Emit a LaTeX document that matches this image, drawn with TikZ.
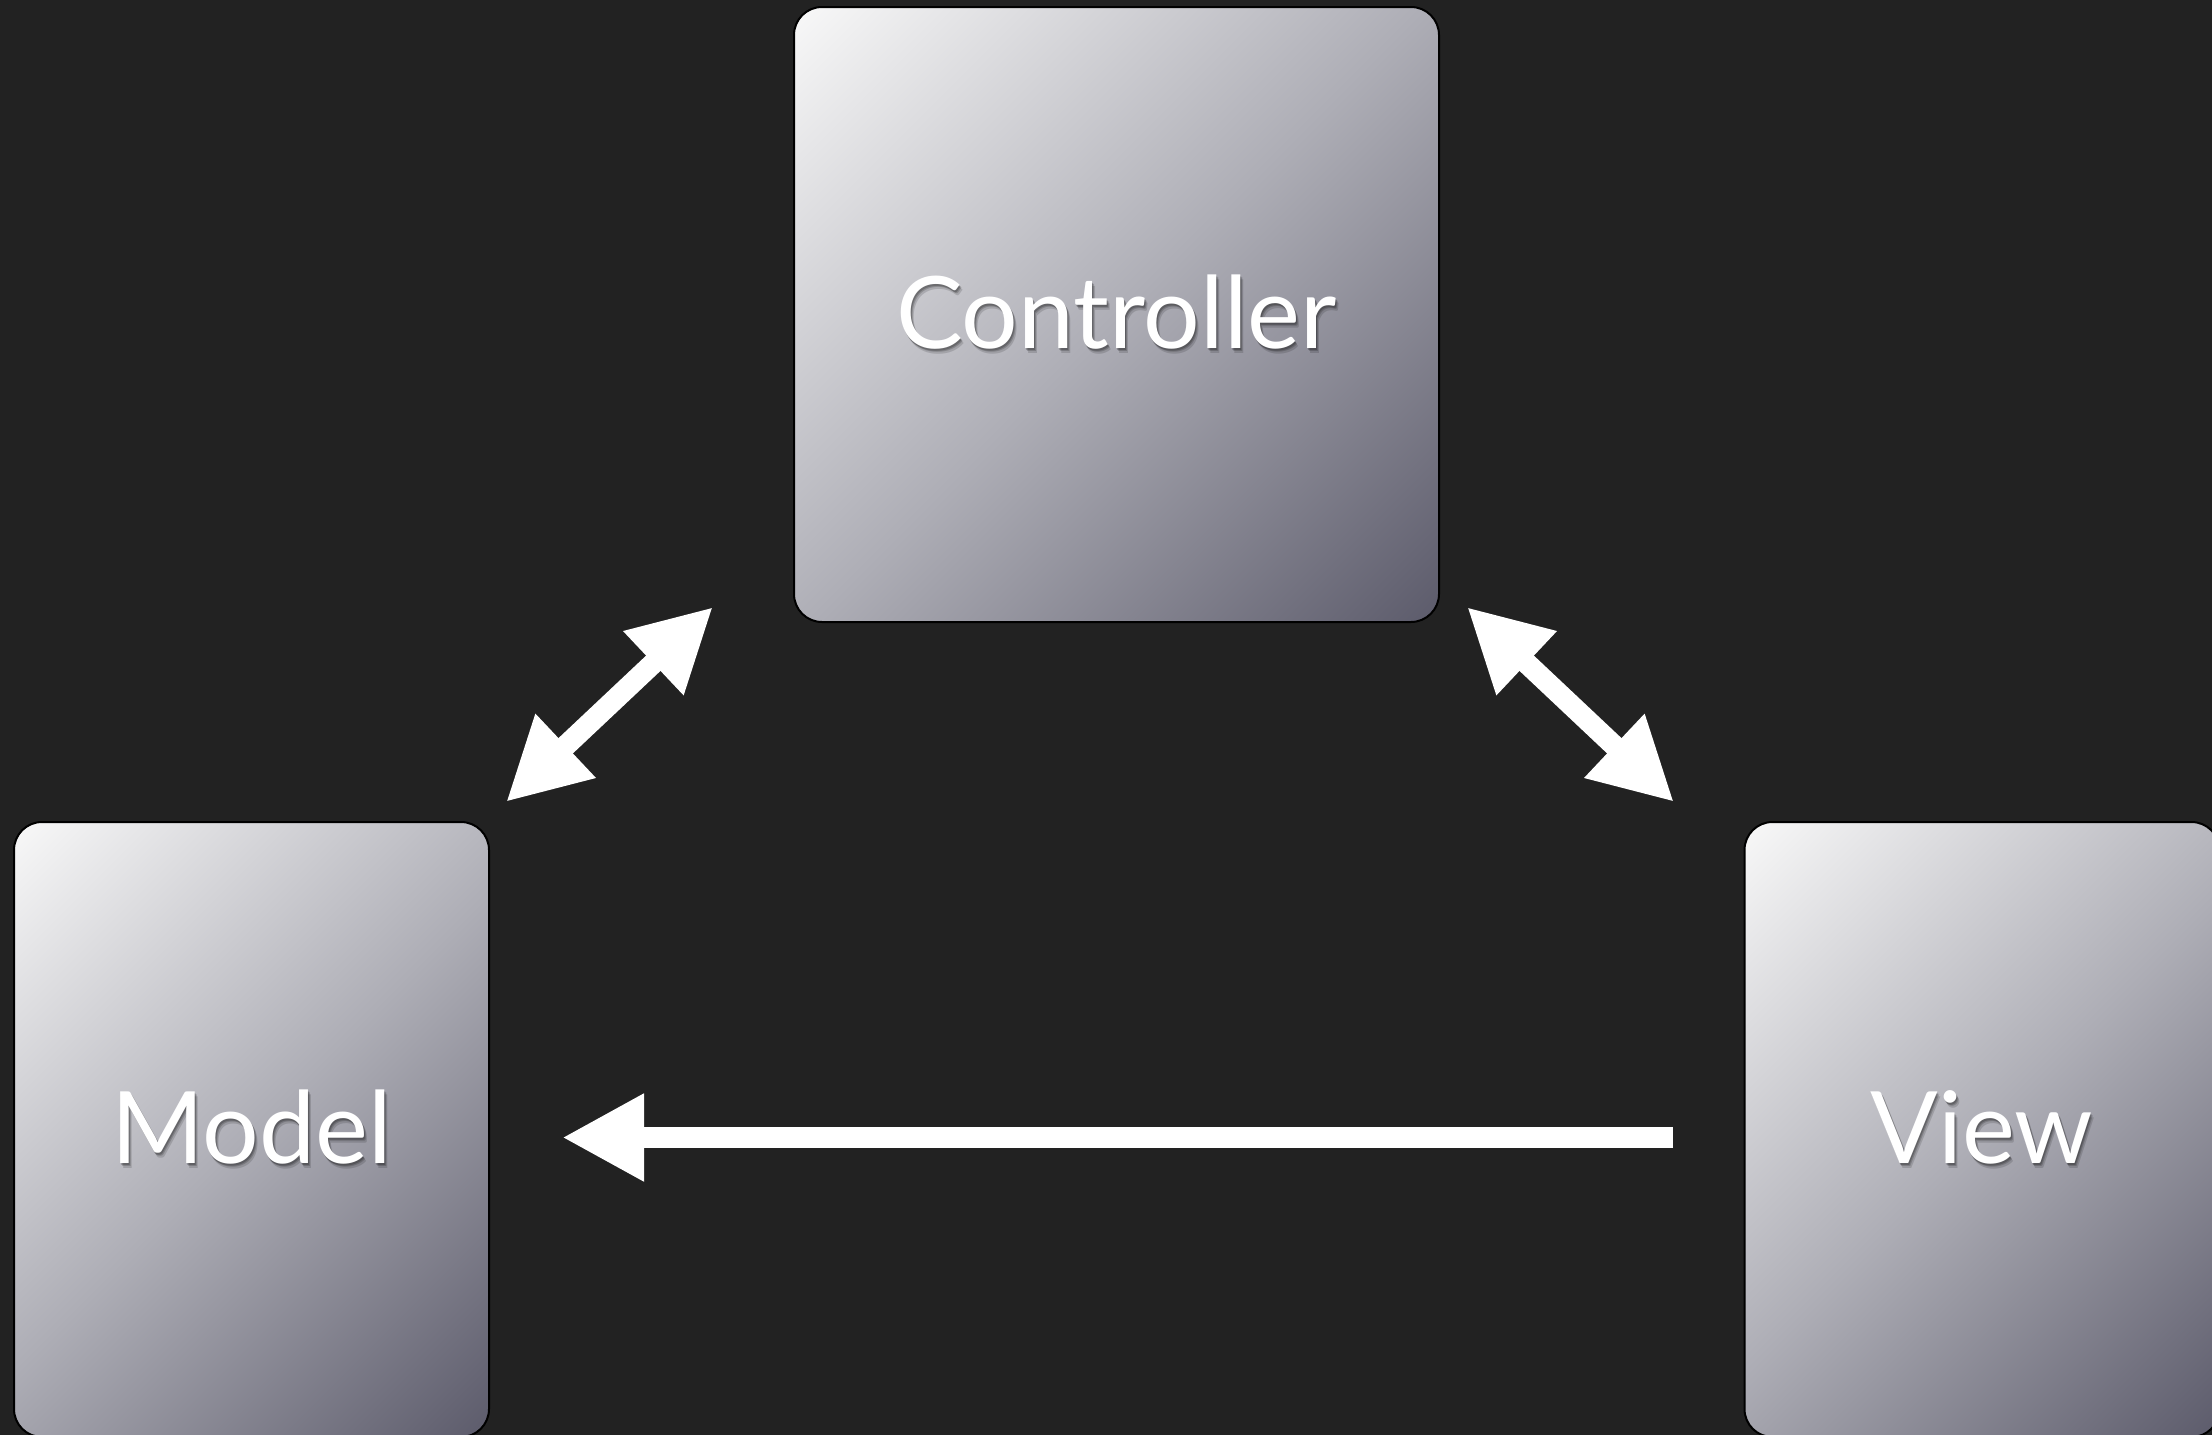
\documentclass[tikz,border=0pt]{standalone}
\usepackage{fontspec}
\setmainfont{Lato}
\usetikzlibrary{arrows.meta}

\definecolor{canvas}{HTML}{222222}
\definecolor{boxlight}{HTML}{F8F8F8}
\definecolor{boxmid}{HTML}{AEAEB6}
\definecolor{boxdark}{HTML}{5C5B6B}

% corner-to-corner fade; the ends sit where the box corners land
% once the shading is turned by 45 degrees
\pgfdeclareverticalshading{boxfade}{100bp}{%
  color(0bp)=(boxdark); color(14.6bp)=(boxdark);
  color(50bp)=(boxmid);
  color(85.4bp)=(boxlight); color(100bp)=(boxlight)}

% white label with a soft dark drop shadow underneath
\newcommand\shadedlabel[1]{%
  \rlap{\pgfsetfillopacity{0.14}\color{black}\hspace{3pt}\raisebox{-5pt}{#1}}%
  \rlap{\pgfsetfillopacity{0.18}\color{black}\hspace{2pt}\raisebox{-3.5pt}{#1}}%
  \rlap{\pgfsetfillopacity{0.22}\color{black}\hspace{1pt}\raisebox{-2pt}{#1}}%
  \pgfsetfillopacity{1}\color{white}#1}

\tikzset{
  mvcbox/.style={
    draw=black, line width=2pt, rounded corners=28pt,
    shading=boxfade, shading angle=45,
    text=white, font=\fontsize{100}{100}\selectfont,
    inner sep=0pt
  },
  flow/.style={
    draw=white, line width=21pt,
    -{Triangle[length=82pt,width=82pt]}
  },
  twoway/.style={
    draw=white, line width=21pt,
    {Triangle[length=82pt,width=82pt]}-{Triangle[length=82pt,width=82pt]}
  }
}

\begin{document}
\begin{tikzpicture}[x=1pt,y=-1pt]
  \useasboundingbox (0,0) rectangle (2212,1435);
  \fill[canvas] (0,0) rectangle (2212,1435);
  \clip (0,0) rectangle (2212,1435);

  % the three components
  \node[mvcbox, minimum width=645pt, minimum height=615pt]
    (controller) at (1116.5,314.5) {\shadedlabel{Controller}};
  \node[mvcbox, minimum width=475pt, minimum height=615pt]
    (model) at (251.5,1129.5) {\shadedlabel{Model}};
  \node[mvcbox, minimum width=475pt, minimum height=615pt]
    (view) at (1982,1129.5) {\shadedlabel{View}};

  % arrow end points in the gaps between the boxes
  \coordinate (mcLow)  at (506,802);
  \coordinate (mcHigh) at (713,607);
  \coordinate (cvHigh) at (1467,607);
  \coordinate (cvLow)  at (1674,802);
  \coordinate (vmTail) at (1673,1137.5);
  \coordinate (vmTip)  at (562,1137.5);

  % connectors
  \draw[twoway] (mcLow) -- (mcHigh);
  \draw[twoway] (cvHigh) -- (cvLow);
  \draw[flow] (vmTail) -- (vmTip);
\end{tikzpicture}
\end{document}
